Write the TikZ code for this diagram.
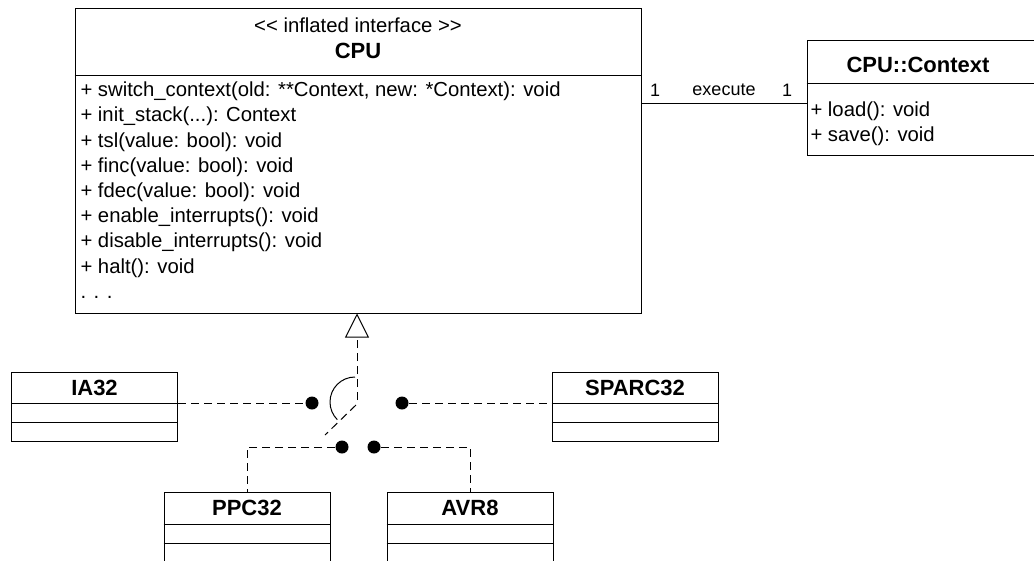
\documentclass[tikz,border=0pt]{standalone}
\usepackage{fontspec}
\setmainfont{Liberation Sans}
\usetikzlibrary{arrows.meta,positioning}

\begin{document}
\begin{tikzpicture}[x=1pt,y=-1pt,line width=1pt,
                    font=\fontsize{20.3}{25.2}\selectfont]
  \tikzstyle{box}=[draw,rectangle,inner sep=0pt,minimum width=166pt,minimum height=69pt]
  \tikzstyle{title}=[font=\fontsize{22}{26}\selectfont\bfseries]
  \tikzstyle{link}=[dash pattern=on 8pt off 5pt]
  \tikzstyle{ball}=[circle,fill,inner sep=0pt,minimum size=13pt]
  \tikzstyle{mult}=[font=\fontsize{18}{22}\selectfont]

  \useasboundingbox (0,0) rectangle (1034,560);

  % the interface
  \node[box,minimum width=566pt,minimum height=305pt] (CPU) at (358,160.5) {};
  \draw (CPU.west |- 0,75) -- (CPU.east |- 0,75);
  \node (stereo) at (358,25) {{<}{<} inflated interface {>}{>}};
  \node[title] (cpuname) at (358,51) {CPU};
  \node[anchor=north west,align=left,inner sep=0pt] (cpuops) at (80,81.5)
    {+ switch\_context(old: **Context, new: *Context): void\\
     + init\_stack(...): Context\\
     + tsl(value: bool): void\\
     + finc(value: bool): void\\
     + fdec(value: bool): void\\
     + enable\_interrupts(): void\\
     + disable\_interrupts(): void\\
     + halt(): void\\
     . . .};

  % the context
  \node[box,minimum width=229pt,minimum height=115pt] (ctx) at (921.5,97.5) {};
  \draw (ctx.west |- 0,83) -- (ctx.east |- 0,83);
  \node[title] (ctxname) at (918,65) {CPU::Context};
  \node[anchor=north west,align=left,inner sep=0pt] (ctxops) at (810,101.5)
    {+ load(): void\\
     + save(): void};

  \draw (CPU.east |- 0,103) -- (ctx.west |- 0,103);
  \node[mult] (m1) at (655,90) {1};
  \node[mult] (exec) at (724,90) {execute};
  \node[mult] (m2) at (787,90) {1};

  % the implementations
  \node[box] (IA32)    at (94.5,406.5) {};
  \node[box] (SPARC32) at (635,406.5) {};
  \node[box] (PPC32)   at (247,526.5) {};
  \node[box] (AVR8)    at (470,526.5) {};
  \node[title] at (94.5,388) {IA32};
  \node[title] at (635,388) {SPARC32};
  \node[title] at (247,508) {PPC32};
  \node[title] at (470,508) {AVR8};
  \draw (IA32.west |- 0,403) -- (IA32.east |- 0,403)
        (IA32.west |- 0,422) -- (IA32.east |- 0,422);
  \draw (SPARC32.west |- 0,403) -- (SPARC32.east |- 0,403)
        (SPARC32.west |- 0,422) -- (SPARC32.east |- 0,422);
  \draw (PPC32.west |- 0,524) -- (PPC32.east |- 0,524)
        (PPC32.west |- 0,543) -- (PPC32.east |- 0,543);
  \draw (AVR8.west |- 0,524) -- (AVR8.east |- 0,524)
        (AVR8.west |- 0,543) -- (AVR8.east |- 0,543);

  % balls and socket
  \node[ball] (b1) at (312,403) {};
  \node[ball] (b2) at (402,403) {};
  \node[ball] (b3) at (342,447) {};
  \node[ball] (b4) at (374,447) {};
  \coordinate (hub) at (357,400);
  \coordinate (tail) at (325,435);

  \draw (355,377) arc[start angle=270,end angle=135,radius=25];
  \draw[link,-{Triangle[open,length=24pt,width=24pt]}] (hub) -- (hub |- CPU.south);
  \draw[link] (356,405) -- (tail);
  \draw[link] (IA32.east |- b1) -- (b1);
  \draw[link] (b2) -- (SPARC32.west |- b2);
  \draw[link] (b3) -| (PPC32.north);
  \draw[link] (b4) -| (AVR8.north);
\end{tikzpicture}
\end{document}
